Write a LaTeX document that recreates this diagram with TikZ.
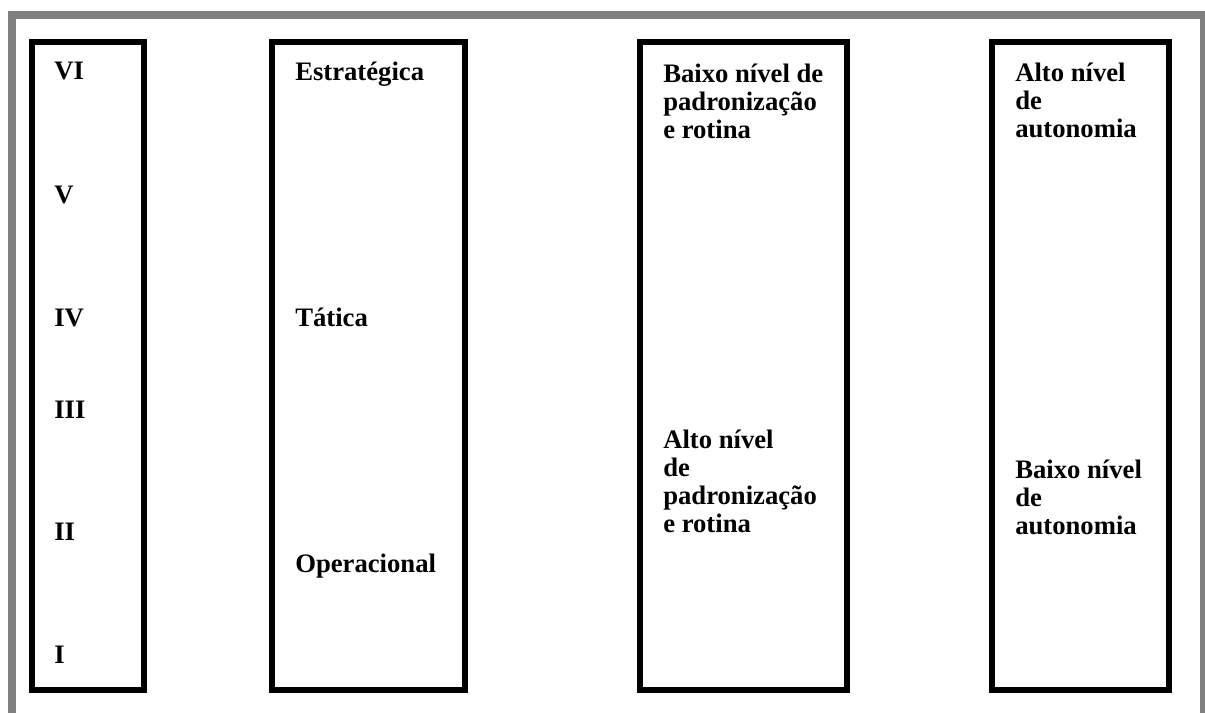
\documentclass[tikz,border=0pt]{standalone}
\usepackage{fontspec}
\setmainfont{Liberation Serif}
\begin{document}
\begin{tikzpicture}[x=0.75pt,y=-0.75pt,
  colbox/.style={draw=black,line width=4.5pt},
  lbl/.style={anchor=base west,inner sep=0pt,font=\bfseries\fontsize{20}{21}\selectfont},
  frame/.style={draw={rgb,255:red,128;green,128;blue,128},line width=6pt}]
\useasboundingbox (0,0) rectangle (1205,713);
\clip (0,0) rectangle (1205,713);
\path[frame] (12,15) rectangle (1204,725);
% columns
\path[colbox] (32,42) rectangle (143.5,690);
\path[colbox] (272,42) rectangle (464.5,690);
\path[colbox] (640,42) rectangle (847,690);
\path[colbox] (992,42) rectangle (1168.5,690);
% column 1
\node[lbl] (l6) at (54,80) {VI};
\node[lbl] (l5) at (54,203) {V};
\node[lbl] (l4) at (54,326) {IV};
\node[lbl] (l3) at (54,418) {III};
\node[lbl] (l2) at (54,540) {II};
\node[lbl] (l1) at (54,663) {I};
% column 2
\node[lbl] (est) at (295,81) {Estratégica};
\node[lbl] (tat) at (295,326) {Tática};
\node[lbl] (ope) at (295,572) {Operacional};
% column 3
\node[lbl] (bp) at (663,83) {\begin{tabular}[t]{@{}l@{}}Baixo nível de\\padronização\\e rotina\end{tabular}};
\node[lbl] (ap) at (663,448) {\begin{tabular}[t]{@{}l@{}}Alto nível\\de\\padronização\\e rotina\end{tabular}};
% column 4
\node[lbl] (aa) at (1015,82) {\begin{tabular}[t]{@{}l@{}}Alto nível\\de\\autonomia\end{tabular}};
\node[lbl] (ba) at (1015,478) {\begin{tabular}[t]{@{}l@{}}Baixo nível\\de\\autonomia\end{tabular}};
\end{tikzpicture}
\end{document}
